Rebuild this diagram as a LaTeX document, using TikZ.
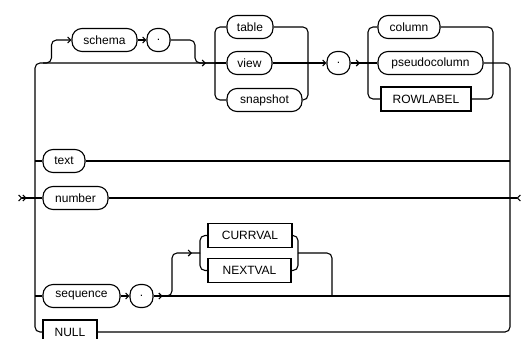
\documentclass[tikz,border=0pt]{standalone}
\usepackage{fontspec}
\setmainfont{Liberation Sans}
\usetikzlibrary{arrows.meta,decorations.markings}

\tikzset{
  via/.style={line width=1.1pt, rounded corners=5pt},
  fin/.style={-{Straight Barb[length=3pt,width=6pt]}},
  inicio/.style={{Straight Barb[reversed,length=3pt,width=6pt]Straight Barb[reversed,length=3pt,width=6pt]}-},
  salida/.style={-{Straight Barb[reversed,length=3pt,width=6pt]}},
  flecha/.style={postaction={decorate}, decoration={markings,
      mark=at position #1 with {\arrow{Straight Barb[length=3pt,width=6pt]}}}},
  ovalo/.style={draw, line width=1.1pt, rounded corners=10pt, minimum height=23pt,
      inner sep=0pt, font=\fontsize{12}{12}\selectfont},
  caja/.style={draw, line width=1.1pt, minimum height=24pt, inner sep=0pt,
      font=\fontsize{12}{12}\selectfont},
}

\begin{document}
\begin{tikzpicture}[x=1pt, y=-1pt]

\useasboundingbox (0,0) rectangle (525,338);
\clip (0,0) rectangle (525,338);

% ================================================================
%  Nodos — coordenadas en px de la imagen (y hacia abajo)
% ================================================================
\node[ovalo, minimum width=65pt]  (schema)   at (104.5, 40) {schema};
\node[ovalo, minimum width=23pt]  (punto1)   at (158.5, 40) {.};
\node[ovalo, minimum width=46pt]  (table)    at (250,   27) {table};
\node[ovalo, minimum width=45pt]  (view)     at (249.5, 63) {view};
\node[ovalo, minimum width=75pt]  (snapshot) at (264.5,100) {snapshot};
\node[ovalo, minimum width=23pt]  (punto2)   at (338.5, 63) {.};
\node[ovalo, minimum width=62pt]  (column)   at (409,   27) {column};
\node[ovalo, minimum width=105pt] (pseudo)   at (430.5, 63) {pseudocolumn};
\node[caja,  minimum width=90pt]  (rowlabel) at (426,   99) {ROWLABEL};
\node[ovalo, minimum width=42pt]  (text)     at (64,   161) {text};
\node[ovalo, minimum width=65pt]  (number)   at (75.5, 198) {number};
\node[ovalo, minimum width=77pt]  (sequence) at (81.5, 296) {sequence};
\node[ovalo, minimum width=23pt]  (punto3)   at (141.5,296) {.};
\node[caja,  minimum width=84pt]  (currval)  at (250, 235.5) {CURRVAL};
\node[caja,  minimum width=83pt]  (nextval)  at (249.5,270.5) {NEXTVAL};
\node[caja,  minimum width=54pt]  (nul)      at (70,   332) {NULL};

% Puntos de union
\coordinate (lt)      at (35,  63);
\coordinate (rb)      at (510,332);
\coordinate (entrada) at (18, 198);
\coordinate (salida)  at (521,198);
\coordinate (s0)      at (43,  63);
\coordinate (s2)      at (195, 63);
\coordinate (j1)      at (215, 63);
\coordinate (j2)      at (308, 63);
\coordinate (j3)      at (368, 63);
\coordinate (j4)      at (493, 63);
\coordinate (s3)      at (164,296);
\coordinate (j5)      at (200,253);
\coordinate (j6)      at (298,253);
\coordinate (j7)      at (332,296);

% ================================================================
%  Espinas izquierda y derecha
% ================================================================
\draw[via, flecha=-9pt] (nul.west) -| (lt) -- (j1);
\draw[via] (pseudo.east) -| (rb) -- (nul.east);

% schema .
\draw[via, fin] (s0) -| ([xshift=-20pt]schema.west) -- (schema.west);
\draw[via, fin] (schema.east) -- (punto1.west);
\draw[via] (punto1.east) -| (s2) -- (j1);

% table / view / snapshot
\draw[via] (j1) |- (table.west);
\draw[via] (j1) |- (snapshot.west);
\draw[via] (j1) -- (view.west);
\draw[via] (table.east) -| (j2);
\draw[via] (snapshot.east) -| (j2);
\draw[via, fin] (view.east) -- (punto2.west);
\draw[via, flecha=-8pt] (punto2.east) -- (j3);

% column / pseudocolumn / ROWLABEL
\draw[via] (j3) |- (column.west);
\draw[via] (j3) |- (rowlabel.west);
\draw[via] (j3) -- (pseudo.west);
\draw[via] (column.east) -| (j4);
\draw[via] (rowlabel.east) -| (j4);

% text y number
\draw[via] (text.west -| lt) -- (text.west);
\draw[via] (text.east) -- (text.east -| rb);
\draw[via, inicio] (entrada) -- (number.west);
\draw[via, salida] (number.east) -- (salida);

% sequence . CURRVAL / NEXTVAL
\draw[via] (sequence.west -| lt) -- (sequence.west);
\draw[via, fin] (sequence.east) -- (punto3.west);
\draw[via, flecha=9pt] (punto3.east) -- (sequence.east -| rb);
\draw[via, flecha=-8pt] (s3) -| ([xshift=-28pt]j5) -- (j5);
\draw[via] (j5) |- (currval.west);
\draw[via] (j5) |- (nextval.west);
\draw[via] (currval.east) -| (j6);
\draw[via] (nextval.east) -| (j6);
\draw[via] (j6) -| (j7);

\end{tikzpicture}
\end{document}
